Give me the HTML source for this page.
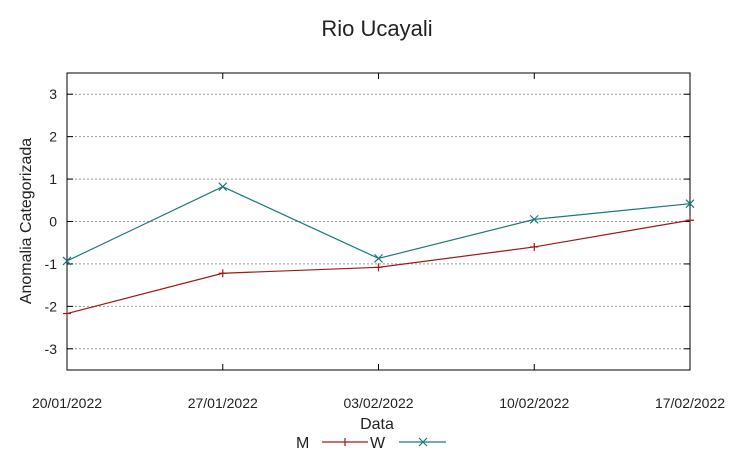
<!DOCTYPE html>
<html><head><meta charset="utf-8"><style>
body{margin:0;background:#fff;}
svg{display:block;font-family:"Liberation Sans",sans-serif;}
</style></head><body>
<svg id="chart" width="753" height="459">
<text x="377" y="36" text-anchor="middle" font-size="22" fill="#222">Rio Ucayali</text>
<g id="grid"></g>
<rect x="67" y="73" width="623" height="297" fill="none" stroke="#000" stroke-width="1"/>
<g id="ticks"></g>
<g id="series"></g>
<text transform="translate(31,221) rotate(-90)" text-anchor="middle" font-size="16" fill="#222">Anomalia Categorizada</text>
<text x="377" y="429" text-anchor="middle" font-size="16" fill="#222">Data</text>
<g>
<g>
<text x="296" y="448" font-size="16" fill="#222">M</text>
<line x1="322" y1="442" x2="368" y2="442" stroke="#a01818" stroke-width="1.2"/>
<line x1="345" y1="438" x2="345" y2="446" stroke="#a01818" stroke-width="1.2"/>
</g>
<g>
<text x="370" y="448" font-size="16" fill="#222">W</text>
<line x1="399" y1="442" x2="446" y2="442" stroke="#1a7a7a" stroke-width="1.2"/>
<path d="M419,438 L427,446 M427,438 L419,446" stroke="#1a7a7a" stroke-width="1.2"/>
</g>
</g>
</svg>
<script>
const categories=["20/01/2022","27/01/2022","03/02/2022","10/02/2022","17/02/2022"];
const seriesM=[-2.17,-1.22,-1.08,-0.6,0.03];
const seriesW=[-0.93,0.82,-0.87,0.05,0.42];
const yTicks=[-3,-2,-1,0,1,2,3];
const NS="http://www.w3.org/2000/svg";
const x0=67,x1=690,yTop=73,yBot=370,yMin=-3.5,yMax=3.5;
const xs=i=>x0+i*(x1-x0)/(categories.length-1);
const ys=v=>yBot-(v-yMin)/(yMax-yMin)*(yBot-yTop);
function mk(tag,attrs,parent){const e=document.createElementNS(NS,tag);for(const k in attrs)e.setAttribute(k,attrs[k]);parent.appendChild(e);return e;}
const grid=document.getElementById('grid'),ticks=document.getElementById('ticks'),ser=document.getElementById('series');
yTicks.forEach(v=>{
 const y=ys(v);
 const g=mk('line',{x1:x0,x2:x1,y1:y,y2:y,stroke:'#999','stroke-dasharray':'2,2','stroke-width':1},grid);
 
 
 mk('line',{x1:x0,x2:x0+6,y1:y,y2:y,stroke:'#000'},ticks);
 mk('line',{x1:x1,x2:x1-6,y1:y,y2:y,stroke:'#000'},ticks);
 const t=mk('text',{x:x0-10,y:y+5,'text-anchor':'end','font-size':14,fill:'#222'},ticks);
 t.textContent=v;
 
 
});
categories.forEach((c,i)=>{
 const x=xs(i);
 mk('line',{x1:x,x2:x,y1:yBot,y2:yBot-6,stroke:'#000'},ticks);
 mk('line',{x1:x,x2:x,y1:yTop,y2:yTop+6,stroke:'#000'},ticks);
 const t=mk('text',{x:x,y:408,'text-anchor':'middle','font-size':14,fill:'#222'},ticks);
 t.textContent=c;
 
 
});
function draw(vals,color,name,marker){
 const p=mk('polyline',{points:vals.map((v,i)=>xs(i)+','+ys(v)).join(' '),fill:'none',stroke:color,'stroke-width':1.2},ser);
 
 
 vals.forEach((v,i)=>{
  const x=xs(i),y=ys(v);
  const d=marker==='+'?`M${x-4},${y} L${x+4},${y} M${x},${y-4} L${x},${y+4}`:`M${x-4},${y-4} L${x+4},${y+4} M${x+4},${y-4} L${x-4},${y+4}`;
  const m=mk('path',{d:d,stroke:color,'stroke-width':1.2},ser);
  
  
 });
}
draw(seriesM,'#a01818','series-m','+');
draw(seriesW,'#1a7a7a','series-w','x');
</script>
</body></html>
